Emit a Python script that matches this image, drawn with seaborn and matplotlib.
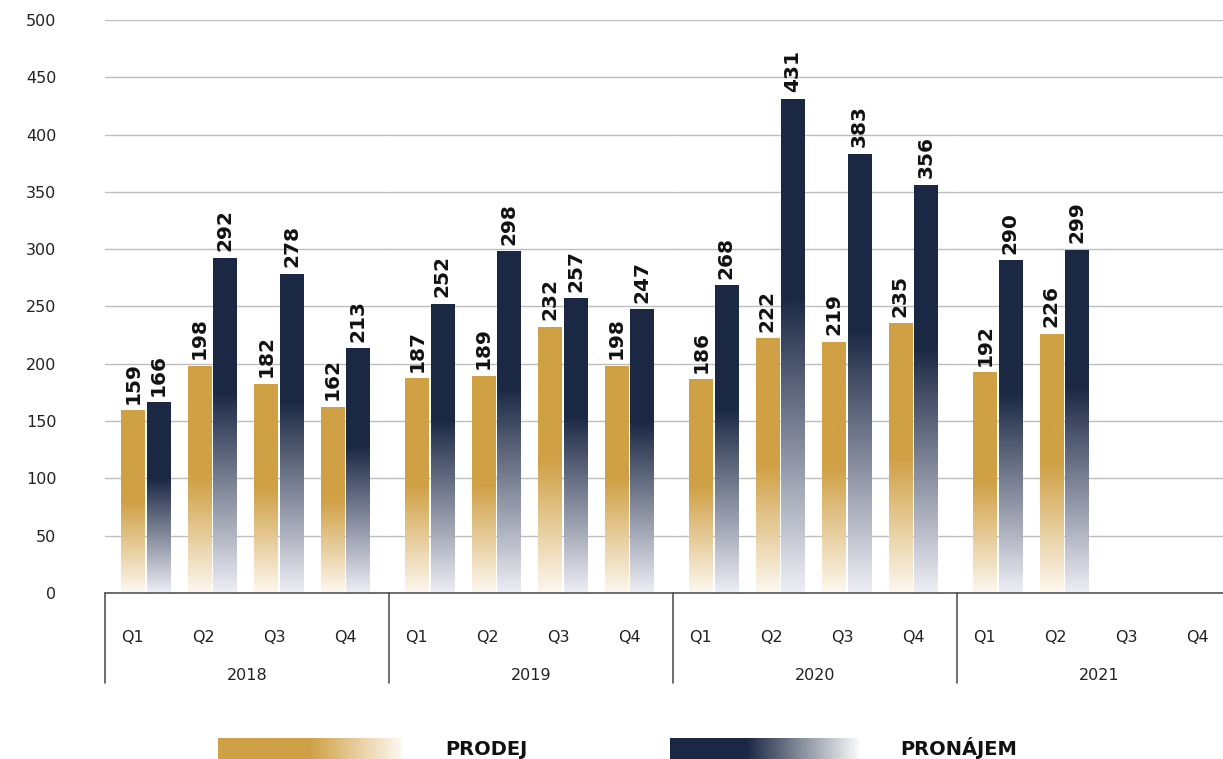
import numpy as np
import pandas as pd
import matplotlib
matplotlib.use('Agg')
import matplotlib.pyplot as plt
import seaborn as sns
from matplotlib.colors import LinearSegmentedColormap

# data
years = ['2018', '2019', '2020', '2021']
quarters = ['Q1', 'Q2', 'Q3', 'Q4']
period_year = ['2018'] * 4 + ['2019'] * 4 + ['2020'] * 4 + ['2021'] * 2
period_quarter = quarters * 3 + ['Q1', 'Q2']
prodej = [159, 198, 182, 162, 187, 189, 232, 198, 186, 222, 219, 235, 192, 226]
pronajem = [166, 292, 278, 213, 252, 298, 257, 247, 268, 431, 383, 356, 290, 299]
series = ['PRODEJ', 'PRONÁJEM']
y_ticks = list(range(0, 501, 50))

gold = '#D0A045'
navy = '#1B2844'
gold_light = '#FDF8F0'
navy_light = '#EEEEF5'

df = pd.DataFrame({
    'year': period_year * 2,
    'quarter': period_quarter * 2,
    'typ': [series[0]] * len(prodej) + [series[1]] * len(pronajem),
    'value': prodej + pronajem,
})

sns.set_theme(style='white')
plt.rcParams['font.family'] = ['DejaVu Sans']

# vertical gradients (value 0 = bottom of bar)
cmaps = [
    LinearSegmentedColormap.from_list('gold_v', [(0, gold_light), (0.5, gold), (1, gold)]),
    LinearSegmentedColormap.from_list('navy_v', [(0, navy_light), (0.6, navy), (1, navy)]),
]
grad = np.linspace(0, 1, 256).reshape(-1, 1)

W, H = 1223, 759
fig = plt.figure(figsize=(W / 100, H / 100), dpi=100)

left_px, base_px, group_px, height_px = 105, 593, 284, 573
xlim = (-0.61, 3.66)
span = xlim[1] - xlim[0]
line_col = '#555555'

for i, year in enumerate(years):
    ax = fig.add_axes([(left_px + i * group_px) / W, (H - base_px) / H,
                       group_px / W, height_px / H])
    sub = df[df['year'] == year]
    sns.barplot(data=sub, x='quarter', y='value', hue='typ', order=quarters,
                hue_order=series, palette=[gold, navy], width=0.77, gap=0.1,
                saturation=1, errorbar=None, legend=False, ax=ax)

    for cont, cmap in zip(ax.containers, cmaps):
        for bar in cont:
            h = bar.get_height()
            if not np.isfinite(h) or h <= 0:
                continue
            x0, w = bar.get_x(), bar.get_width()
            ax.imshow(grad, extent=[x0, x0 + w, 0, h], origin='lower',
                      aspect='auto', cmap=cmap, zorder=2)
            bar.set_facecolor('none')
            bar.set_edgecolor('none')
        ax.bar_label(cont, fmt='%d', rotation=90, padding=5, fontsize=14.5,
                     fontweight='bold', color='#111111')

    ax.set_xlim(*xlim)
    ax.set_ylim(0, 500)
    ax.set_yticks(y_ticks)
    ax.grid(axis='y', color='#BDBDBD', linewidth=1)
    ax.set_axisbelow(True)
    ax.set_xlabel('')
    ax.set_ylabel('')

    for s in ['top', 'right', 'left']:
        ax.spines[s].set_visible(False)
    ax.spines['bottom'].set_color(line_col)
    ax.spines['bottom'].set_linewidth(1.2)

    ax.set_xticks([xlim[0] + (k + 0.5) * span / 4 - 0.12 for k in range(4)])
    ax.set_xticklabels(quarters, fontsize=11.5, color='#222222')
    ax.tick_params(axis='x', length=0, pad=27)

    if i == 0:
        ax.tick_params(axis='y', length=0, pad=35, labelsize=11.5, labelcolor='#222222')
    else:
        ax.set_yticklabels([])
        ax.tick_params(axis='y', length=0)

    ax.text(0.5, -82 / height_px, year, transform=ax.transAxes, ha='center',
            va='center', fontsize=11.5, color='#222222')
    ax.plot([0, 0], [0, -90 / height_px], transform=ax.transAxes,
            color=line_col, lw=1.2, clip_on=False)

# legend with horizontal gradients
hgrad = np.linspace(1, 0, 256).reshape(1, -1)
legend_items = [
    (218, 184, 445, series[0],
     LinearSegmentedColormap.from_list('gold_h', [(0, gold_light), (0.5, gold), (1, gold)])),
    (670, 192, 900, series[1],
     LinearSegmentedColormap.from_list('navy_h', [(0, '#FFFFFF'), (0.6, navy), (1, navy)])),
]
for x_px, w_px, tx_px, label, cmap in legend_items:
    lax = fig.add_axes([x_px / W, 0, w_px / W, 21 / H])
    lax.imshow(hgrad, aspect='auto', cmap=cmap)
    lax.axis('off')
    fig.text(tx_px / W, 4 / H, label, fontsize=14, fontweight='bold',
             color='#111111', va='baseline')

fig.savefig('out.png', dpi=100)
